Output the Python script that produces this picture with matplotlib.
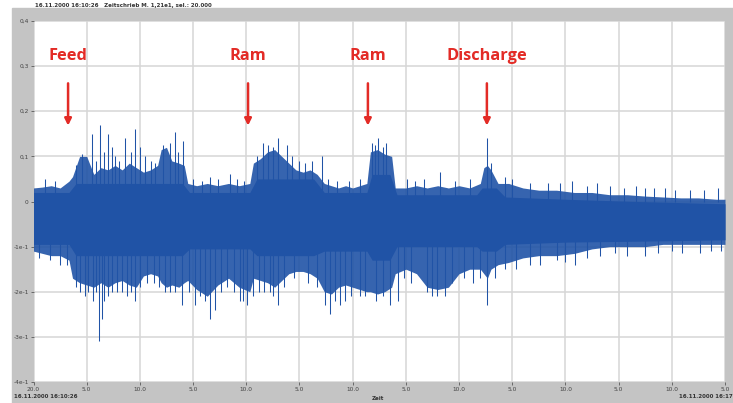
import matplotlib.pyplot as plt
from matplotlib.patches import Rectangle

# time in seconds from start of record, values of the vibration envelope
env_t = [0, 5, 10, 15, 20, 22, 26, 30, 34, 38, 42, 46, 50, 54, 58, 62, 66, 70, 72, 75,
         78, 82, 85, 87, 92, 98, 104, 110, 116, 122, 124, 128, 132, 136, 140, 144, 148,
         152, 156, 160, 164, 168, 172, 176, 180, 184, 188, 190, 194, 198, 202, 204, 210,
         216, 222, 228, 234, 240, 246, 252, 254, 256, 258, 262, 268, 276, 285, 295, 305,
         315, 325, 335, 345, 355, 365, 375, 385, 390]
env_top = [0.030, 0.032, 0.035, 0.030, 0.045, 0.055, 0.100, 0.100, 0.060, 0.075, 0.070,
           0.080, 0.070, 0.085, 0.075, 0.065, 0.070, 0.080, 0.115, 0.120, 0.090, 0.085,
           0.080, 0.040, 0.035, 0.040, 0.035, 0.040, 0.035, 0.040, 0.085, 0.095, 0.110,
           0.115, 0.100, 0.085, 0.070, 0.065, 0.070, 0.060, 0.040, 0.035, 0.030, 0.035,
           0.030, 0.035, 0.040, 0.110, 0.115, 0.105, 0.100, 0.030, 0.030, 0.035, 0.030,
           0.035, 0.030, 0.035, 0.030, 0.040, 0.075, 0.080, 0.070, 0.040, 0.040, 0.030,
           0.025, 0.025, 0.020, 0.020, 0.015, 0.015, 0.012, 0.010, 0.008, 0.008, 0.005,
           0.005]
env_bot = [-0.110, -0.115, -0.120, -0.120, -0.130, -0.170, -0.180, -0.185, -0.190, -0.180,
           -0.190, -0.180, -0.175, -0.185, -0.190, -0.165, -0.160, -0.165, -0.180, -0.190,
           -0.185, -0.190, -0.180, -0.175, -0.195, -0.210, -0.185, -0.170, -0.190, -0.200,
           -0.170, -0.175, -0.180, -0.190, -0.175, -0.160, -0.155, -0.155, -0.160, -0.170,
           -0.200, -0.205, -0.190, -0.185, -0.190, -0.195, -0.200, -0.200, -0.205, -0.200,
           -0.190, -0.160, -0.150, -0.160, -0.190, -0.195, -0.190, -0.160, -0.150, -0.150,
           -0.160, -0.170, -0.150, -0.140, -0.135, -0.125, -0.120, -0.120, -0.115, -0.105,
           -0.100, -0.100, -0.100, -0.095, -0.095, -0.095, -0.095, -0.095]

# dense core of the signal
core_t = [0, 20, 24, 84, 88, 122, 126, 158, 164, 188, 191, 201, 205, 250, 253, 261, 266,
          300, 340, 390]
core_top = [0.020, 0.020, 0.040, 0.040, 0.020, 0.020, 0.050, 0.050, 0.020, 0.020, 0.060,
            0.060, 0.015, 0.015, 0.030, 0.030, 0.010, 0.005, 0.000, -0.005]
core_bot = [-0.095, -0.095, -0.120, -0.120, -0.105, -0.105, -0.120, -0.120, -0.110,
            -0.110, -0.130, -0.130, -0.100, -0.100, -0.110, -0.110, -0.095, -0.090,
            -0.088, -0.085]

# single peaks standing out of the band
peak_up_t = [6.5, 12, 24, 27.5, 33, 35, 37.5, 40, 42, 44, 46, 48.5, 51.6, 55, 57.2, 60, 63,
             66, 68.5, 73, 77, 79.8, 81.5, 84.3, 90, 95, 99.5, 104, 110.8, 115, 119, 126,
             129.4, 132, 135, 138, 143, 146, 150, 153, 157, 162.6, 166, 171, 178, 184, 191,
             192.5, 194.5, 197, 199, 210.7, 215, 220, 229.3, 238, 246, 255.7, 258, 265.9,
             270, 280, 290, 297, 303.7, 312, 318, 325, 333, 340, 344.7, 350, 356, 362, 370,
             378, 385.8]
peak_up_v = [0.05, 0.045, 0.08, 0.105, 0.15, 0.09, 0.17, 0.11, 0.15, 0.12, 0.10, 0.09, 0.14,
             0.11, 0.16, 0.12, 0.10, 0.09, 0.085, 0.125, 0.13, 0.155, 0.11, 0.135, 0.05,
             0.045, 0.055, 0.05, 0.06, 0.05, 0.045, 0.10, 0.13, 0.125, 0.12, 0.14, 0.125,
             0.10, 0.09, 0.085, 0.09, 0.10, 0.05, 0.045, 0.045, 0.05, 0.13, 0.125, 0.14,
             0.12, 0.13, 0.05, 0.045, 0.05, 0.065, 0.045, 0.05, 0.14, 0.085, 0.055, 0.05,
             0.04, 0.04, 0.04, 0.045, 0.035, 0.04, 0.035, 0.03, 0.035, 0.03, 0.03, 0.03,
             0.025, 0.025, 0.025, 0.03]
peak_dn_t = [3, 9.3, 15, 19, 24, 26.5, 29, 31, 33.6, 35, 37, 38.6, 40, 42, 44.5, 47, 50,
             52.7, 55, 57.2, 60, 64, 68, 71, 74, 77, 80, 84, 87.5, 91, 94, 97, 99.5, 102.3,
             106, 109, 113, 116.4, 118, 120.4, 124, 127, 130, 133.4, 135, 138, 141, 147,
             155, 160, 164.4, 167, 170, 173, 175.6, 179, 184, 187, 193, 197, 201, 205.5,
             209, 213, 222, 225, 227.6, 232, 236, 243, 248, 251.8, 255.7, 260, 266, 272,
             280, 285.6, 295, 300, 305.4, 312, 319.4, 328, 335, 344.7, 352, 360, 366, 375.8,
             382, 388]
peak_dn_v = [-0.125, -0.13, -0.14, -0.14, -0.19, -0.20, -0.21, -0.20, -0.22, -0.20, -0.31,
             -0.26, -0.22, -0.21, -0.20, -0.20, -0.20, -0.21, -0.20, -0.22, -0.19, -0.18,
             -0.18, -0.19, -0.20, -0.20, -0.20, -0.23, -0.20, -0.23, -0.21, -0.22, -0.26,
             -0.24, -0.20, -0.19, -0.20, -0.22, -0.22, -0.23, -0.21, -0.20, -0.20, -0.20,
             -0.21, -0.23, -0.19, -0.17, -0.18, -0.19, -0.23, -0.25, -0.22, -0.23, -0.22,
             -0.21, -0.21, -0.21, -0.22, -0.21, -0.23, -0.22, -0.17, -0.18, -0.20, -0.21,
             -0.21, -0.21, -0.18, -0.17, -0.18, -0.17, -0.23, -0.17, -0.15, -0.15, -0.14,
             -0.14, -0.13, -0.135, -0.14, -0.125, -0.12, -0.115, -0.12, -0.12, -0.115,
             -0.11, -0.115, -0.115, -0.11, -0.11]

events = ["Feed", "Ram", "Ram", "Discharge"]
event_t = [19.5, 121, 188.6, 255.7]

y_ticks = [0.4, 0.3, 0.2, 0.1, 0, -0.1, -0.2, -0.3, -0.4]
y_labels = ["0,4", "0,3", "0,2", "0,1", "0", "-1e-1", "-2e-1", "-3e-1", "-4e-1"]
x_ticks = list(range(0, 391, 30))
x_labels = ["20.0"] + ["5.0" if i % 2 else "10.0" for i in range(1, 14)]

blue = "#2053a6"
red = "#e32b26"
W, H = 733, 403

fig = plt.figure(figsize=(W / 100, H / 100), dpi=100, facecolor="white")
fig.patches.append(Rectangle((12 / W, 0), (W - 12) / W, (H - 8) / H,
                             transform=fig.transFigure, color="#c4c4c4", zorder=-10))

ax = fig.add_axes([33.5 / W, 21 / H, (725 - 33.5) / W, (382 - 21) / H])
ax.set_zorder(2)
ax.set_facecolor("white")
ax.fill_between(env_t, env_bot, env_top, color=blue, alpha=0.9, lw=0, zorder=3)
ax.fill_between(core_t, core_bot, core_top, color=blue, lw=0, zorder=3)
ax.vlines(peak_up_t, 0, peak_up_v, color=blue, lw=0.75, zorder=3)
ax.vlines(peak_dn_t, -0.05, peak_dn_v, color=blue, lw=0.75, zorder=3)

for name, t in zip(events, event_t):
    ax.text(t, 0.322, name, color=red, fontsize=11.8, fontweight="bold",
            family="Open Sans", ha="center", va="center", zorder=5)
    ax.annotate("", xy=(t, 0.162), xytext=(t, 0.268),
                arrowprops=dict(arrowstyle="-|>", color=red, lw=1.8,
                                mutation_scale=10), zorder=5)

ax.set_xlim(0, 390)
ax.set_ylim(-0.4, 0.4)
ax.set_xticks(x_ticks)
ax.set_xticklabels(x_labels)
ax.set_yticks(y_ticks)
ax.set_yticklabels(y_labels)
ax.tick_params(labelsize=4.2, colors="#444444", length=2, width=0.5, pad=1.5)
ax.grid(color="#d6d6d6", lw=1.1, zorder=1)
for s in ax.spines.values():
    s.set_visible(False)

fig.text(35 / W, 1 - 5 / H, "16.11.2000 16:10:26   Zeitschrieb M. 1,21e1, sel.: 20.000",
         fontsize=4, fontweight="bold", color="#333333", va="center")
fig.text(14 / W, 1 - 397 / H, "16.11.2000 16:10:26", fontsize=4, fontweight="bold",
         color="#333333", va="center")
fig.text(378 / W, 1 - 398 / H, "Zeit", fontsize=4, fontweight="bold",
         color="#333333", va="center", ha="center")
fig.text(1.0, 1 - 397 / H, "16.11.2000 16:17", fontsize=4, fontweight="bold",
         color="#333333", va="center", ha="right")

fig.savefig("out.png", dpi=100)
